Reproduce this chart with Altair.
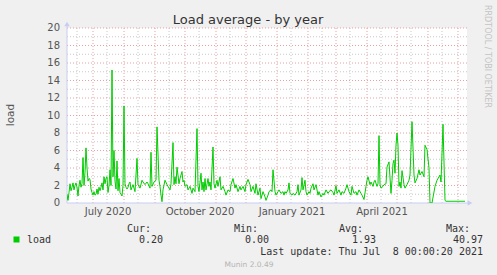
import altair as alt
import pandas as pd

# ---------------- data ----------------
START = "2020-06-05"          # left edge of the time axis
END = "2021-07-10"            # right edge of the time axis

# day offset from START, load average value
day_offsets = [
    0, 1, 2, 3, 4, 5, 6, 7, 8, 9, 10, 11, 12, 13, 14, 15, 16, 17, 18, 19,
    20, 21, 22, 23, 24, 25, 26, 27, 28, 29, 30, 31, 32, 33, 34, 35, 36, 37, 38, 39,
    40, 41, 42, 43, 44, 45, 46, 47, 48, 49, 50, 51, 52, 53, 54, 55, 56, 57, 58, 59,
    60, 61, 62, 63, 64, 66, 68, 70, 71, 73, 75, 76, 78, 80, 81, 83, 84, 85, 87, 89,
    90, 92, 93, 94, 95, 96, 98, 100, 101, 103, 104, 106, 107, 108, 109, 110, 112, 113, 115, 116,
    117, 118, 120, 121, 123, 125, 126, 128, 130, 131, 132, 134, 135, 136, 137, 138, 139, 141, 142, 143,
    144, 146, 147, 148, 150, 151, 153, 154, 156, 158, 159, 161, 163, 164, 166, 168, 169, 171, 173, 174,
    176, 178, 179, 181, 183, 184, 186, 188, 189, 191, 193, 194, 196, 198, 199, 201, 202, 204, 205, 206,
    208, 209, 211, 212, 214, 216, 217, 218, 219, 221, 222, 223, 225, 226, 228, 230, 231, 232, 234, 235,
    236, 238, 239, 240, 242, 243, 244, 246, 247, 249, 251, 252, 254, 256, 257, 259, 261, 262, 264, 266,
    267, 269, 270, 272, 274, 275, 277, 279, 280, 282, 284, 285, 287, 289, 290, 292, 294, 295, 297, 299,
    300, 301, 303, 304, 306, 307, 308, 310, 311, 312, 313, 314, 316, 317, 319, 320, 322, 324, 325, 326,
    327, 328, 329, 330, 331, 332, 333, 334, 335, 337, 338, 340, 342, 343, 345, 347, 348, 350, 352, 353,
    355, 357, 358, 360, 362, 363, 365, 368, 370, 372, 373, 374, 376, 378, 379, 381, 385, 389, 393, 398,
]
load_values = [
    1.0, 0.3, 1.2, 2.2, 1.4, 1.8, 2.3, 1.5, 2.0, 2.3, 1.8, 0.8, 2.0, 2.6, 1.8, 2.2, 5.2, 2.0, 3.5, 6.3,
    4.0, 2.5, 2.8, 2.7, 1.6, 1.2, 0.9, 1.3, 0.9, 1.0, 1.6, 1.0, 1.8, 1.4, 1.8, 2.3, 1.5, 3.0, 2.2, 2.8,
    3.0, 1.2, 2.0, 3.8, 2.0, 15.2, 3.0, 6.0, 2.5, 1.6, 4.8, 1.4, 2.8, 1.2, 1.0, 0.8, 2.0, 11.1, 2.2, 1.8,
    1.6, 1.8, 2.2, 2.4, 1.5, 2.1, 1.3, 5.1, 2.1, 1.7, 2.6, 2.4, 2.1, 2.4, 2.2, 1.7, 5.8, 1.9, 2.4, 2.6,
    8.7, 2.6, 1.9, 0.9, 0.15, 1.5, 2.6, 2.1, 1.9, 1.5, 2.2, 6.9, 2.1, 3.0, 2.2, 4.1, 2.2, 2.8, 3.6, 2.4,
    2.6, 1.9, 2.1, 1.5, 1.9, 1.1, 1.7, 1.3, 8.5, 1.9, 1.3, 3.4, 1.5, 2.4, 1.3, 2.8, 1.5, 2.8, 1.9, 2.4,
    1.5, 6.4, 2.2, 1.7, 2.6, 1.9, 3.0, 1.5, 1.9, 1.3, 0.9, 1.5, 1.3, 2.1, 2.8, 1.7, 2.1, 1.3, 1.9, 1.5,
    1.9, 1.3, 2.1, 2.7, 2.1, 1.3, 1.9, 1.1, 2.2, 0.9, 1.7, 0.5, 1.3, 0.7, 0.3, 0.9, 1.3, 1.5, 1.3, 3.8,
    1.3, 0.9, 1.3, 1.5, 1.1, 1.3, 0.9, 1.3, 1.1, 1.5, 2.3, 1.1, 0.9, 1.1, 0.9, 1.3, 2.1, 0.9, 1.5, 2.9,
    1.5, 2.6, 1.3, 0.9, 1.3, 1.1, 1.7, 2.2, 1.5, 2.1, 0.9, 1.3, 0.7, 1.1, 0.9, 1.5, 1.1, 1.3, 1.5, 1.2,
    0.9, 2.0, 1.1, 1.5, 0.9, 1.3, 1.1, 1.7, 2.1, 1.3, 0.9, 1.9, 1.1, 1.3, 0.9, 1.5, 1.1, 0.9, 0.4, 1.9,
    2.6, 3.0, 2.1, 2.4, 1.9, 2.4, 2.6, 1.9, 2.2, 7.7, 2.1, 1.7, 1.9, 2.1, 2.2, 4.1, 4.7, 1.1, 2.6, 4.5,
    4.9, 3.4, 6.6, 8.0, 6.6, 1.9, 2.4, 1.7, 3.7, 2.1, 1.7, 2.1, 2.6, 3.2, 9.3, 3.2, 2.3, 2.8, 3.8, 3.2,
    3.6, 3.0, 6.6, 6.1, 4.0, 0.0, 0.0, 1.9, 2.6, 3.0, 3.2, 2.4, 9.0, 0.3, 0.2, 0.2, 0.2, 0.2, 0.2, 0.2,
]

y_major = [0, 2, 4, 6, 8, 10, 12, 14, 16, 18, 20]
y_minor = [1, 3, 5, 7, 9, 11, 13, 15, 17, 19]
month_starts = ["2020-07-01", "2020-08-01", "2020-09-01", "2020-10-01", "2020-11-01",
                "2020-12-01", "2021-01-01", "2021-02-01", "2021-03-01", "2021-04-01",
                "2021-05-01", "2021-06-01", "2021-07-01"]
mid_months = ["2020-06-15", "2020-07-15", "2020-08-15", "2020-09-15", "2020-10-15",
              "2020-11-15", "2020-12-15", "2021-01-15", "2021-02-15", "2021-03-15",
              "2021-04-15", "2021-05-15", "2021-06-15"]
label_dates = ["2020-07-16", "2020-10-16", "2021-01-16", "2021-04-16"]
x_labels = ["July 2020", "October 2020", "January 2021", "April 2021"]

title_text = "Load average - by year"
series_name = "load"
stat_names = ["Cur:", "Min:", "Avg:", "Max:"]
stat_values = ["0.20", "0.00", "1.93", "40.97"]
last_update = "Last update: Thu Jul\u00a0\u00a08 00:00:20 2021"
footer = "Munin 2.0.49"
side_text = "RRDTOOL / TOBI OETIKER"


def ms(s):
    return int(pd.Timestamp(s, tz="UTC").value // 10**6)


start_ms = ms(START)
df = pd.DataFrame({
    "t": [start_ms + d * 86400000 for d in day_offsets],
    "load": load_values,
})
dom = [ms(START), ms(END)]
xscale = alt.Scale(type="utc", domain=dom)
yscale = alt.Scale(domain=[0, 20], nice=False, zero=True)

GREEN = "#00CC00"
MGRID = "#EBA0A0"
GRID = "#C8C8C8"
AXIS = "#C8CCF4"
TICKC = "#555555"

grid_major_v = alt.Chart(pd.DataFrame({"t": [ms(s) for s in month_starts]})).mark_rule(
    color=MGRID, strokeWidth=1, strokeDash=[1, 2]
).encode(x=alt.X("t:T", scale=xscale, axis=None))

grid_minor_v = alt.Chart(pd.DataFrame({"t": [ms(s) for s in mid_months]})).mark_rule(
    color=GRID, strokeWidth=1, strokeDash=[1, 2]
).encode(x=alt.X("t:T", scale=xscale, axis=None))

grid_minor_h = alt.Chart(pd.DataFrame({"v": y_minor})).mark_rule(
    color=GRID, strokeWidth=1, strokeDash=[1, 2]
).encode(y=alt.Y("v:Q", scale=yscale, axis=None))

grid_major_h = alt.Chart(pd.DataFrame({"v": y_major[1:]})).mark_rule(
    color=MGRID, strokeWidth=1, strokeDash=[1, 2]
).encode(y=alt.Y("v:Q", scale=yscale, axis=None))

# tick labels placed through the scales
y_tick_labels = alt.Chart(pd.DataFrame({"v": y_major})).mark_text(
    font="DejaVu Sans", fontSize=10, color=TICKC, align="right", baseline="middle"
).encode(y=alt.Y("v:Q", scale=yscale, axis=None), x=alt.value(-7), text="v:Q")

x_tick_labels = alt.Chart(pd.DataFrame({"t": [ms(s) for s in label_dates],
                                        "lab": x_labels})).mark_text(
    font="DejaVu Sans", fontSize=10, color=TICKC, align="center", baseline="alphabetic"
).encode(x=alt.X("t:T", scale=xscale, axis=None), y=alt.value(187), text="lab:N")

one = pd.DataFrame({"k": [0]})
y_axis_line = alt.Chart(one).mark_rule(color=AXIS, strokeWidth=1).encode(
    x=alt.value(0), y=alt.value(-4), y2=alt.value(175))
x_axis_line = alt.Chart(one).mark_rule(color=AXIS, strokeWidth=1).encode(
    y=alt.value(175), x=alt.value(0), x2=alt.value(403))
y_arrow = alt.Chart(one).mark_point(shape="triangle-up", filled=True, color=AXIS,
                                    size=30, opacity=1).encode(
    x=alt.value(0), y=alt.value(-4))
x_arrow = alt.Chart(one).mark_point(shape="triangle-right", filled=True, color=AXIS,
                                    size=30, opacity=1).encode(
    x=alt.value(403), y=alt.value(175))

line = alt.Chart(df).mark_line(color=GREEN, strokeWidth=1, clip=True).encode(
    x=alt.X("t:T", scale=xscale, axis=None),
    y=alt.Y("load:Q", scale=yscale, axis=None),
)


def txt(s, x, y, size=10, font="DejaVu Sans Mono", color="#333333", align="left",
        angle=0, baseline="alphabetic"):
    return alt.Chart(pd.DataFrame({"s": [s]})).mark_text(
        font=font, fontSize=size, color=color, align=align, baseline=baseline,
        angle=angle
    ).encode(text="s:N", x=alt.value(x), y=alt.value(y))


texts = [
    txt(title_text, 181, -4, size=13, font="DejaVu Sans", color="#333333", align="center"),
    txt(series_name, -56, 87, size=10.5, font="DejaVu Sans", color="#555555",
        align="center", angle=270, baseline="middle"),
    txt(side_text, 420, -23, size=8, font="DejaVu Sans", color="#C4C4C4",
        align="left", angle=90, baseline="middle"),
    txt(series_name, -40, 215),
    txt(last_update, 416, 227, align="right"),
    txt(footer, 182, 239, size=7.5, font="DejaVu Sans", color="#B4B4B4", align="center"),
]
for name, xr in zip(stat_names, [84, 191, 296, 403]):
    texts.append(txt(name, xr, 203.5, align="right"))
for val, xr in zip(stat_values, [96, 202, 309, 416]):
    texts.append(txt(val, xr, 215, align="right"))

legend_sq = alt.Chart(one).mark_square(color=GREEN, size=36, opacity=1).encode(
    x=alt.value(-50.5), y=alt.value(211.5))

chart = alt.layer(
    grid_minor_v, grid_minor_h, grid_major_v, grid_major_h,
    y_axis_line, x_axis_line, y_arrow, x_arrow,
    line, y_tick_labels, x_tick_labels, legend_sq, *texts
).properties(
    width=400, height=175,
    padding={"left": 67, "top": 28, "right": 30, "bottom": 72},
    autosize=alt.AutoSizeParams(type="none"),
    background="#F0F0F0",
).configure_view(fill="#FFFFFF", stroke=None)

chart.save("out.html", embed_options={"renderer": "svg", "actions": False})
